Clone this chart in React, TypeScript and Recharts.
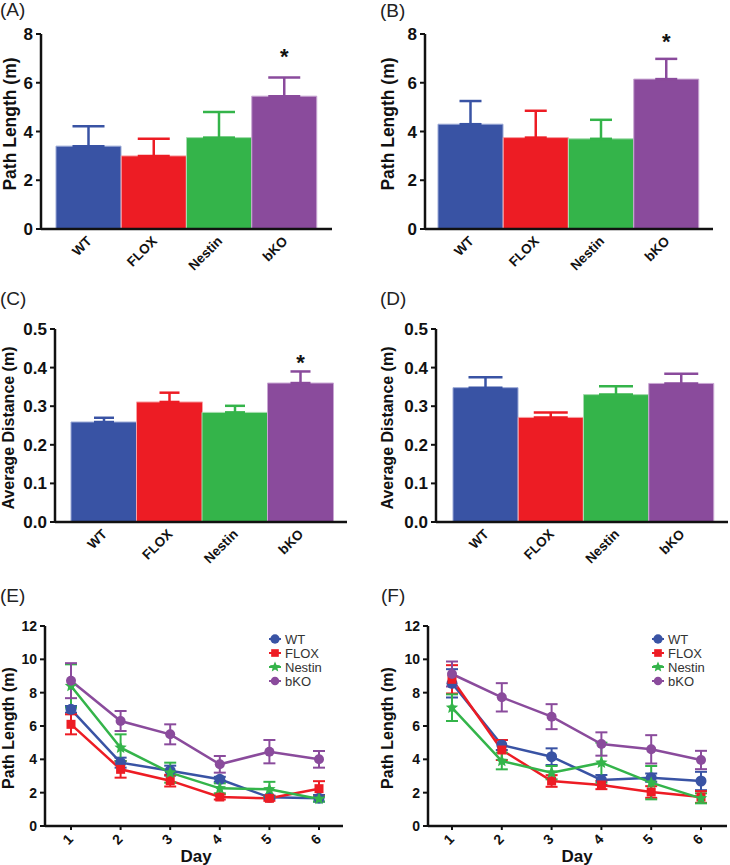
import React from "react";
import { BarChart, Bar, XAxis, YAxis, ErrorBar, LabelList, LineChart, Line } from "recharts";

const FONT = '"Liberation Sans", Arial, Helvetica, sans-serif';
const INK = "#111";

const groups = ["WT", "FLOX", "Nestin", "bKO"];
const colors = ["#3953a4", "#ed1c24", "#34b44a", "#8a4b9c"];
const edges = ["#9aa8d6", "#f7a0a4", "#a4dcae", "#c8a6d2"];
const shapes = ["circle", "square", "star", "dot"];

// bar panels: mean and SEM (upper whisker only)
const aMean = [3.4, 3.0, 3.75, 5.45];
const aErr = [0.82, 0.7, 1.05, 0.77];
const aSig = ["", "", "", "*"];

const bMean = [4.3, 3.75, 3.7, 6.15];
const bErr = [0.95, 1.1, 0.78, 0.83];
const bSig = ["", "", "", "*"];

const cMean = [0.259, 0.311, 0.284, 0.36];
const cErr = [0.011, 0.024, 0.017, 0.03];
const cSig = ["", "", "", "*"];

const dMean = [0.348, 0.271, 0.33, 0.359];
const dErr = [0.027, 0.013, 0.022, 0.025];
const dSig = ["", "", "", ""];

// line panels
const days = [1, 2, 3, 4, 5, 6];

const eWT = [7.0, 3.8, 3.32, 2.8, 1.72, 1.66];
const eWTErr = [0.2, 0.3, 0.3, 0.15, 0.1, 0.2];
const eFLOX = [6.1, 3.4, 2.72, 1.74, 1.66, 2.24];
const eFLOXErr = [0.6, 0.5, 0.35, 0.15, 0.15, 0.45];
const eNestin = [8.4, 4.7, 3.2, 2.26, 2.2, 1.62];
const eNestinErr = [1.3, 0.8, 0.6, 0.3, 0.45, 0.15];
const eBKO = [8.72, 6.3, 5.5, 3.7, 4.46, 4.0];
const eBKOErr = [1.05, 0.6, 0.6, 0.5, 0.7, 0.5];

const fWT = [8.56, 4.86, 4.16, 2.76, 2.9, 2.7];
const fWTErr = [0.85, 0.3, 0.5, 0.3, 0.25, 0.55];
const fFLOX = [8.8, 4.56, 2.7, 2.46, 2.04, 1.74];
const fFLOXErr = [0.85, 0.6, 0.35, 0.25, 0.35, 0.35];
const fNestin = [7.1, 3.9, 3.2, 3.8, 2.6, 1.66];
const fNestinErr = [0.8, 0.5, 0.4, 1.2, 1.0, 0.3];
const fBKO = [9.12, 7.72, 6.56, 4.92, 4.6, 3.96];
const fBKOErr = [0.75, 0.85, 0.75, 0.7, 0.85, 0.55];

const C45 = Math.SQRT1_2;

function Marker({ cx, cy, shape, color, s = 1 }: any) {
  if (shape === "circle") return <circle cx={cx} cy={cy} r={5.5 * s} fill={color} />;
  if (shape === "square")
    return <rect x={cx - 4.5 * s} y={cy - 4.5 * s} width={9 * s} height={9 * s} fill={color} />;
  if (shape === "star") {
    const pts: string[] = [];
    for (let k = 0; k < 10; k++) {
      const r = (k % 2 === 0 ? 6.5 : 3) * s;
      const a = -Math.PI / 2 + (k * Math.PI) / 5;
      pts.push(`${cx + r * Math.cos(a)},${cy + r * Math.sin(a)}`);
    }
    return <polygon points={pts.join(" ")} fill={color} />;
  }
  return <circle cx={cx} cy={cy} r={5 * s} fill={color} />;
}

// bar panels: rotation written as a matrix
function MatTick(props: any) {
  const { x, y, payload, fs, ox, oy } = props;
  const ax = x + ox;
  const ay = y + oy;
  return (
    <g transform={`matrix(${C45},${-C45},${C45},${C45},${ax},${ay})`}>
      <text x={0} y={0} textAnchor="end" fontSize={fs} fontWeight="bold" fill={INK} fontFamily={FONT}>
        {payload.value}
      </text>
    </g>
  );
}

// line panels: rotation written as a CSS transform
function CssTick(props: any) {
  const { x, y, payload, fs, ox, oy } = props;
  const ax = x + ox;
  const ay = y + oy;
  return (
    <g style={{ transform: `translate(${ax}px, ${ay}px) rotate(-45deg)` }}>
      <text x={0} y={0} textAnchor="end" fontSize={fs} fontWeight="bold" fill={INK} fontFamily={FONT}>
        {payload.value}
      </text>
    </g>
  );
}

function Title({ x, y, text }: any) {
  return (
    <div style={{ position: "absolute", left: x, top: y, fontSize: 19, lineHeight: 1, color: "#222" }}>
      {text}
    </div>
  );
}

function YTitle({ x, y, size, text }: any) {
  return (
    <div
      style={{
        position: "absolute",
        left: x,
        top: y,
        transform: "translate(-50%, -50%) rotate(-90deg)",
        fontSize: size,
        fontWeight: "bold",
        whiteSpace: "nowrap",
        lineHeight: 1,
        color: INK,
      }}
    >
      {text}
    </div>
  );
}

function BarPanel(p: any) {
  const rows = groups.map((g, i) => {
    const row: any = { name: g, sig: p.sig[i], err: p.err[i] };
    row[g] = p.mean[i];
    row[g + "Err"] = [0, p.err[i]];
    return row;
  });
  // pixels per data unit on the value axis
  const plotH = p.h - p.margin.top - p.margin.bottom - 40;
  const pxPerUnit = plotH / p.domain[1];
  return (
    <div style={{ position: "absolute", left: p.x, top: p.y }}>
      <BarChart width={p.w} height={p.h} data={rows} margin={p.margin} barCategoryGap={0}>
        <XAxis
          dataKey="name"
          padding={p.pad}
          interval={0}
          tickLine={false}
          tickSize={0}
          tickMargin={0}
          height={40}
          axisLine={{ stroke: INK, strokeWidth: 2.5 }}
          tick={(tp: any) => <MatTick {...tp} fs={13.5} ox={4} oy={13} />}
        />
        <YAxis
          width={p.yWidth}
          domain={p.domain}
          ticks={p.ticks}
          interval={0}
          tickFormatter={(v: number) => v.toFixed(p.digits)}
          tick={{ fontSize: p.tickFont, fontWeight: "bold", fill: INK, fontFamily: FONT }}
          tickLine={{ stroke: INK, strokeWidth: 2 }}
          tickSize={5}
          tickMargin={3}
          axisLine={{ stroke: INK, strokeWidth: 2.5 }}
        />
        {groups.map((g, i) => (
          <Bar
            key={g}
            dataKey={g}
            stackId="s"
            fill={colors[i]}
            stroke={edges[i]}
            strokeWidth={1}
            isAnimationActive={false}
          >
            <ErrorBar dataKey={g + "Err"} width={p.cap} strokeWidth={2.5} stroke={colors[i]} direction="y" />
            {i === 3 && (
              <LabelList
                dataKey="sig"
                content={(lp: any) => {
                  const { x, y, width, value, index } = lp;
                  if (!value) return null;
                  const ePx = rows[index].err * pxPerUnit;
                  return (
                    <text
                      x={x + width / 2}
                      y={y - ePx - p.starGap}
                      textAnchor="middle"
                      fontSize={22}
                      fontWeight="bold"
                      fill={INK}
                      fontFamily={FONT}
                    >
                      {value}
                    </text>
                  );
                }}
              />
            )}
          </Bar>
        ))}
      </BarChart>
    </div>
  );
}

function LinePanel(p: any) {
  const rows = days.map((d, i) => {
    const row: any = { day: d };
    groups.forEach((g, k) => {
      row[g] = p.series[k][i];
      row[g + "Err"] = p.errs[k][i];
    });
    return row;
  });
  return (
    <div style={{ position: "absolute", left: p.x, top: p.y }}>
      <LineChart width={p.w} height={p.h} data={rows} margin={p.margin}>
        <XAxis
          dataKey="day"
          type="number"
          domain={[1, 6]}
          ticks={days}
          interval={0}
          padding={p.pad}
          tickSize={4}
          tickMargin={0}
          height={30}
          tickLine={{ stroke: INK, strokeWidth: 2 }}
          axisLine={{ stroke: INK, strokeWidth: 2.5 }}
          tick={(tp: any) => <CssTick {...tp} fs={14} ox={3} oy={10} />}
        />
        <YAxis
          width={p.yWidth}
          domain={[0, 12]}
          ticks={[0, 2, 4, 6, 8, 10, 12]}
          interval={0}
          tick={{ fontSize: 14, fontWeight: "bold", fill: INK, fontFamily: FONT }}
          tickLine={{ stroke: INK, strokeWidth: 2 }}
          tickSize={5}
          tickMargin={3}
          axisLine={{ stroke: INK, strokeWidth: 2.5 }}
        />
        {groups.map((g, k) => (
          <Line
            key={g}
            dataKey={g}
            stroke={colors[k]}
            strokeWidth={2.5}
            isAnimationActive={false}
            dot={(dp: any) => (
              <Marker key={g + dp.index} cx={dp.cx} cy={dp.cy} shape={shapes[k]} color={colors[k]} />
            )}
          >
            <ErrorBar dataKey={g + "Err"} width={6} strokeWidth={2} stroke={colors[k]} direction="y" />
          </Line>
        ))}
      </LineChart>
    </div>
  );
}

function LegendBox({ x, y }: any) {
  return (
    <div style={{ position: "absolute", left: x, top: y }}>
      {groups.map((g, i) => (
        <div key={g} style={{ display: "flex", alignItems: "center", height: 14, fontSize: 13, color: "#333" }}>
          <svg width={14} height={14}>
            <line x1={1} y1={7} x2={13} y2={7} stroke={colors[i]} strokeWidth={2} />
            <Marker cx={7} cy={7} shape={shapes[i]} color={colors[i]} s={0.85} />
          </svg>
          <span style={{ marginLeft: 3 }}>{g}</span>
        </div>
      ))}
    </div>
  );
}

export default function App() {
  return (
    <div
      style={{
        position: "absolute",
        left: 0,
        top: 0,
        width: 730,
        height: 865,
        background: "#fff",
        fontFamily: FONT,
        overflow: "hidden",
      }}
    >
      <BarPanel
        x={0}
        y={0}
        w={365}
        h={280}
        margin={{ top: 34, right: 33, bottom: 11, left: 0 }}
        yWidth={41}
        domain={[0, 8]}
        ticks={[0, 2, 4, 6, 8]}
        digits={0}
        mean={aMean}
        err={aErr}
        sig={aSig}
        pad={{ left: 15, right: 15 }}
        cap={16}
        starGap={12}
        tickFont={17}
      />
      <BarPanel
        x={365}
        y={0}
        w={365}
        h={280}
        margin={{ top: 34, right: 17, bottom: 11, left: 0 }}
        yWidth={60}
        domain={[0, 8]}
        ticks={[0, 2, 4, 6, 8]}
        digits={0}
        mean={bMean}
        err={bErr}
        sig={bSig}
        pad={{ left: 13, right: 14 }}
        cap={11}
        starGap={7}
        tickFont={17}
      />
      <BarPanel
        x={0}
        y={290}
        w={365}
        h={290}
        margin={{ top: 39, right: 18, bottom: 18, left: 0 }}
        yWidth={55}
        domain={[0, 0.5]}
        ticks={[0, 0.1, 0.2, 0.3, 0.4, 0.5]}
        digits={1}
        mean={cMean}
        err={cErr}
        sig={cSig}
        pad={{ left: 16, right: 14 }}
        cap={10}
        starGap={9}
        tickFont={17}
      />
      <BarPanel
        x={365}
        y={290}
        w={365}
        h={290}
        margin={{ top: 39, right: 2, bottom: 18, left: 0 }}
        yWidth={71}
        domain={[0, 0.5]}
        ticks={[0, 0.1, 0.2, 0.3, 0.4, 0.5]}
        digits={1}
        mean={dMean}
        err={dErr}
        sig={dSig}
        pad={{ left: 17, right: 14 }}
        cap={17}
        starGap={0}
        tickFont={17}
      />
      <LinePanel
        x={0}
        y={580}
        w={365}
        h={285}
        margin={{ top: 46, right: 22, bottom: 9, left: 0 }}
        yWidth={45}
        pad={{ left: 26, right: 24 }}
        series={[eWT, eFLOX, eNestin, eBKO]}
        errs={[eWTErr, eFLOXErr, eNestinErr, eBKOErr]}
      />
      <LinePanel
        x={365}
        y={580}
        w={365}
        h={285}
        margin={{ top: 46, right: 3, bottom: 9, left: 0 }}
        yWidth={63}
        pad={{ left: 24, right: 26 }}
        series={[fWT, fFLOX, fNestin, fBKO]}
        errs={[fWTErr, fFLOXErr, fNestinErr, fBKOErr]}
      />

      <LegendBox x={268} y={632} />
      <LegendBox x={651} y={632} />

      <Title x={0} y={0} text="(A)" />
      <Title x={380} y={1} text="(B)" />
      <Title x={0} y={289} text="(C)" />
      <Title x={380} y={289} text="(D)" />
      <Title x={0} y={586} text="(E)" />
      <Title x={381} y={586} text="(F)" />

      <YTitle x={11} y={124} size={17.5} text="Path Length (m)" />
      <YTitle x={389} y={124} size={17.5} text="Path Length (m)" />
      <YTitle x={9} y={428} size={16} text="Average Distance (m)" />
      <YTitle x={388} y={428} size={16} text="Average Distance (m)" />
      <YTitle x={9} y={728} size={16} text="Path Length (m)" />
      <YTitle x={388} y={728} size={16} text="Path Length (m)" />

      <div style={{ position: "absolute", left: 196, top: 856, transform: "translate(-50%, -50%)", fontSize: 17, fontWeight: "bold", lineHeight: 1, color: INK }}>
        Day
      </div>
      <div style={{ position: "absolute", left: 577, top: 856, transform: "translate(-50%, -50%)", fontSize: 17, fontWeight: "bold", lineHeight: 1, color: INK }}>
        Day
      </div>
    </div>
  );
}
